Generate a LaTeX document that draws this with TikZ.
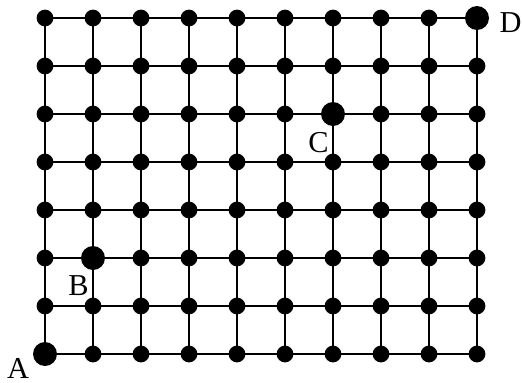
\documentclass[tikz,border=0pt]{standalone}
\usepackage{fontspec}
\setmainfont{Liberation Serif}
\usetikzlibrary{backgrounds}

\tikzset{
  dot/.style={circle, fill=black, inner sep=0pt, minimum size=3.5mm},
  bigdot/.style={dot, minimum size=5mm},
  lbl/.style={font=\fontsize{18}{21}\selectfont, inner sep=0pt},
  wire/.style={line width=1.1pt}
}

\begin{document}
\begin{tikzpicture}
    \useasboundingbox (-0.9375,-0.604) rectangle (9.9375,7.375);

    % lattice points, 10 columns by 8 rows
    \foreach \i in {0,...,9} {
        \foreach \j in {0,...,7} {
            \node[dot] (n-\i-\j) at (\i,\j) {};
        }
    }

    % the four marked points
    \node[bigdot] (A) at (n-0-0) {};
    \node[bigdot] (B) at (n-1-2) {};
    \node[bigdot] (C) at (n-6-5) {};
    \node[bigdot] (D) at (n-9-7) {};

    % grid lines behind the points
    \begin{scope}[on background layer]
        \foreach \i in {0,...,9}
            \draw[wire] (n-\i-0.center) -- (n-\i-7.center);
        \foreach \j in {0,...,7}
            \draw[wire] (n-0-\j.center) -- (n-9-\j.center);
    \end{scope}

    % labels
    \node[lbl] (labA) at ([shift={(-0.56,-0.30)}]A) {A};
    \node[lbl] (labB) at ([shift={(-0.30,-0.57)}]B) {B};
    \node[lbl] (labC) at ([shift={(-0.30,-0.60)}]C) {C};
    \node[lbl] (labD) at ([shift={(0.70,-0.09)}]D) {D};
\end{tikzpicture}
\end{document}
